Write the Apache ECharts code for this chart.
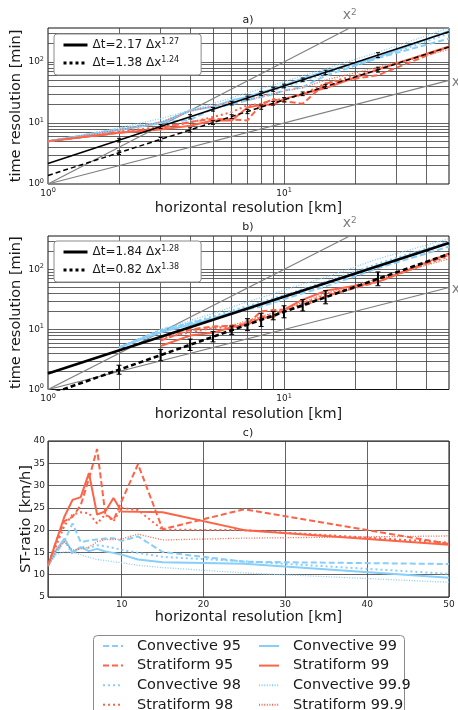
<!DOCTYPE html>
<html>
<head>
<meta charset="utf-8">
<script src="https://cdn.jsdelivr.net/npm/echarts@6/dist/echarts.min.js"></script>
<style>
  html, body { margin: 0; padding: 0; background: #fff; }
  #chart { width: 458px; height: 710px; }
</style>
</head>
<body>
<div id="chart"></div>
<script>
// horizontal resolutions [km]
const resKm = [1, 2, 3, 4, 5, 6, 7, 8, 9, 10, 12, 15, 25, 50];
const resConvB = [2, 3, 4, 5, 6, 7, 8, 9, 10, 12, 15, 25, 50];
const resStratB = [3, 4, 5, 6, 7, 8, 9, 10, 12, 15, 25, 50];
const resErr = [2, 3, 4, 5, 6, 7, 8, 9, 10, 12, 15, 25];

// a) time resolution [min]
const aConv95 = [5.0, 8.0, 10.3, 11.2, 17.3, 20.3, 23.5, 26.5, 29.7, 34.1, 38.7, 59.6, 116, 242];
const aStrat95 = [5.0, 6.9, 8.2, 10.4, 11.7, 11.4, 11.0, 20.3, 24.3, 22.6, 20.7, 44.6, 60.7, 178];
const aConv98 = [5.0, 7.7, 10.1, 16.4, 18.4, 22.5, 25.3, 29.3, 33.8, 38.5, 48.3, 64.3, 115, 294];
const aStrat98 = [5.0, 7.3, 8.6, 10.2, 12.5, 15.1, 19.5, 20.4, 24.5, 24.0, 29.4, 44.8, 75.0, 174];
const aConv99 = [5.0, 7.7, 9.9, 16.0, 18.5, 23.5, 26.6, 31.6, 36.2, 41.4, 53.7, 70.3, 120, 323];
const aStrat99 = [5.0, 6.9, 7.8, 9.0, 11.0, 11.0, 17.9, 19.8, 19.9, 24.8, 29.9, 37.5, 75.0, 180];
const aConv999 = [5.0, 8.3, 11.8, 16.0, 20.7, 25.9, 31.3, 36.4, 41.9, 47.2, 59.5, 77.6, 144, 361];
const aStrat999 = [5.0, 7.7, 10.3, 15.5, 19.0, 22.2, 24.1, 26.8, 30.2, 33.3, 37.7, 50.6, 82.4, 160];

// b) time resolution [min]
const bConv95 = [5.0, 9.5, 12.8, 15.5, 18.5, 21.5, 24.0, 28.0, 32.0, 40.0, 52.0, 105, 240];
const bConv98 = [5.0, 9.8, 13.0, 16.5, 20.5, 24.5, 28.5, 33.0, 37.0, 47.0, 62.0, 125, 290];
const bConv99 = [5.0, 9.0, 12.0, 15.0, 19.0, 23.0, 27.0, 31.0, 35.0, 44.0, 59.0, 116, 280];
const bConv999 = [5.1, 10.0, 14.0, 18.5, 23.5, 29.0, 34.0, 39.0, 45.0, 57.0, 74.0, 150, 325];
const bStrat95 = [6.5, 10.0, 11.2, 11.5, 12.5, 20.0, 21.0, 21.5, 24.0, 36.0, 62.0, 175];
const bStrat98 = [7.0, 9.0, 10.5, 11.0, 13.0, 16.0, 18.0, 21.0, 27.0, 38.0, 64.0, 165];
const bStrat99 = [5.3, 7.9, 8.8, 10.9, 12.1, 15.6, 16.0, 21.3, 31.3, 44.0, 62.0, 185];
const bStrat999 = [7.3, 9.5, 10.8, 11.8, 14.0, 16.5, 19.0, 22.0, 28.0, 40.0, 70.0, 150];

// c) ST-ratio [km/h]
const cConv95 = [12, 15.0, 17.5, 21.5, 17.3, 17.7, 17.9, 18.1, 18.2, 17.6, 18.6, 15.1, 12.9, 12.4];
const cStrat95 = [12, 17.5, 22.0, 23.0, 25.6, 31.5, 38.2, 23.7, 22.2, 26.5, 34.8, 20.2, 24.7, 16.9];
const cConv98 = [12, 15.5, 17.8, 14.6, 16.3, 16.0, 16.6, 16.4, 16.0, 15.6, 14.9, 14.0, 13.0, 10.2];
const cStrat98 = [12, 16.5, 21.0, 23.5, 24.0, 23.8, 21.5, 23.5, 22.0, 25.0, 24.5, 20.1, 20.0, 17.2];
const cConv99 = [12, 15.5, 18.1, 15.0, 16.2, 15.3, 15.8, 15.2, 14.9, 14.5, 13.4, 12.8, 12.45, 9.3];
const cStrat99 = [12, 17.5, 23.0, 26.8, 27.4, 32.8, 23.5, 24.2, 27.2, 24.2, 24.1, 24.0, 20.0, 16.7];
const cConv999 = [12, 14.5, 15.2, 15.0, 14.5, 13.9, 13.4, 13.2, 12.9, 12.7, 12.1, 11.6, 10.4, 8.3];
const cStrat999 = [12, 15.5, 17.4, 15.5, 15.8, 16.2, 17.4, 17.9, 17.9, 18.0, 19.1, 17.8, 18.2, 18.7];

// power-law fits  dt = a * dx^b
const fitA = [{ a: 2.17, b: 1.27 }, { a: 1.38, b: 1.24 }];
const fitB = [{ a: 1.84, b: 1.28 }, { a: 0.82, b: 1.38 }];

// error bar half-spans (log10 units)
const errASolid = [0.03, 0.03, 0.035, 0.03, 0.03, 0.03, 0.035, 0.03, 0.03, 0.03, 0.035, 0.04];
const errADash = [0.03, 0.03, 0.035, 0.03, 0.03, 0.035, 0.035, 0.03, 0.035, 0.03, 0.035, 0.04];
const errBDash = [0.075, 0.095, 0.095, 0.085, 0.07, 0.1, 0.11, 0.07, 0.1, 0.095, 0.11, 0.115];

const xMin = 1, xMax = 50, tMin = 1, tMax = 360;

const FONT = 'DejaVu Sans';
const INK = '#1a1a1a';
const BLUE = '#87cefa';
const RED = '#ff6347';
const GRIDLINE = '#3c3c3c';

const pctStyle = {
  '95':   { type: [6, 3], width: 2 },
  '98':   { type: [2, 3], width: 2 },
  '99':   { type: 'solid', width: 2 },
  '99.9': { type: [1, 1.6], width: 1.3 }
};

function lineSeries(name, xs, ys, g, color, pct) {
  const st = pctStyle[pct];
  return {
    type: 'line', name, xAxisIndex: g, yAxisIndex: g, z: 3,
    data: xs.map((x, i) => [x, ys[i]]),
    symbol: 'none', animation: false, silent: true,
    itemStyle: { color },
    lineStyle: { color, width: st.width, type: st.type }
  };
}

function logGridValues(lo, hi) {
  const v = [];
  for (let d = 1; d < hi; d *= 10) {
    for (let m = 1; m < 10; m++) {
      const t = m * d;
      if (t > lo * 1.0001 && t < hi * 0.9999) v.push(t);
    }
  }
  return v;
}

function powerLabel(v) {
  const e = Math.log10(v);
  const r = Math.round(e);
  return Math.abs(e - r) < 1e-6 ? '10{s|' + r + '}' : '';
}

const tickRich = { s: { fontSize: 6.5, fontFamily: FONT, color: INK, verticalAlign: 'top', lineHeight: 8 } };

function logAxes(g) {
  return {
    x: {
      type: 'log', logBase: 10, gridIndex: g, min: xMin, max: xMax,
      name: 'horizontal resolution [km]', nameLocation: 'middle', nameGap: 14,
      nameTextStyle: { fontSize: 14.5, fontFamily: FONT, color: INK },
      axisLine: { show: false }, axisTick: { show: false }, splitLine: { show: false },
      axisLabel: { formatter: powerLabel, rich: tickRich, fontSize: 9, lineHeight: 13, fontFamily: FONT, color: INK, margin: 3 }
    },
    y: {
      type: 'log', logBase: 10, gridIndex: g, min: tMin, max: tMax,
      name: 'time resolution [min]', nameLocation: 'middle', nameGap: 24, nameMoveOverlap: false,
      nameTextStyle: { fontSize: 14.5, fontFamily: FONT, color: INK },
      axisLine: { show: false }, axisTick: { show: false }, splitLine: { show: false },
      axisLabel: { formatter: powerLabel, rich: tickRich, fontSize: 9, lineHeight: 13, fontFamily: FONT, color: INK, margin: 4 }
    }
  };
}

function refSeries(g) {
  const gx = logGridValues(xMin, xMax);
  const gy = logGridValues(tMin, tMax);
  const gray = { color: '#808080', width: 1.2 };
  const lblStyle = { fontSize: 14, fontFamily: FONT, color: '#808080', rich: { s: { fontSize: 9, fontFamily: FONT, color: '#808080', verticalAlign: 'top', lineHeight: 10 } } };
  const sqTop = Math.sqrt(tMax);
  return [
    {
      type: 'line', xAxisIndex: g, yAxisIndex: g, z: 2, silent: true, animation: false,
      data: [[xMin, xMin], [xMax, xMax]], symbol: 'none', lineStyle: gray,
      markLine: {
        silent: true, symbol: 'none', z: 1, animation: false,
        label: { show: false },
        lineStyle: { color: GRIDLINE, width: 0.8, type: 'solid' },
        emphasis: { disabled: true },
        data: gx.map(v => ({ xAxis: v })).concat(gy.map(v => ({ yAxis: v })))
      },
      markPoint: {
        silent: true, symbol: 'circle', symbolSize: 0, animation: false,
        data: [{ coord: [xMax, xMax], label: { show: true, formatter: 'x', offset: [7, 2], ...lblStyle } }]
      }
    },
    {
      type: 'line', xAxisIndex: g, yAxisIndex: g, z: 2, silent: true, animation: false,
      data: [[xMin, xMin * xMin], [sqTop, tMax]], symbol: 'none', lineStyle: gray,
      markPoint: {
        silent: true, symbol: 'circle', symbolSize: 0, animation: false,
        data: [{ coord: [sqTop, tMax], label: { show: true, formatter: 'x{s|2}', offset: [0, -13], ...lblStyle } }]
      }
    }
  ];
}

function fitName(f) { return 'Δt=' + f.a.toFixed(2) + ' Δx^' + f.b.toFixed(2); }

function fitSeries(g, f, dashed, width) {
  return {
    type: 'line', name: fitName(f), xAxisIndex: g, yAxisIndex: g, z: 4,
    silent: true, animation: false, symbol: 'none',
    data: [[xMin, f.a], [xMax, f.a * Math.pow(xMax, f.b)]],
    itemStyle: { color: '#000' },
    lineStyle: { color: '#000', width, type: dashed ? [5, 3] : 'solid' }
  };
}

function errSeries(g, f, spans, barWidth, capHalf) {
  return {
    type: 'custom', xAxisIndex: g, yAxisIndex: g, z: 5, silent: true, animation: false,
    data: resErr.map((x, i) => {
      const c = f.a * Math.pow(x, f.b);
      const k = Math.pow(10, spans[i]);
      return [x, c / k, c * k];
    }),
    encode: { x: 0, y: [1, 2] },
    renderItem: (params, api) => {
      const lo = api.coord([api.value(0), api.value(1)]);
      const hi = api.coord([api.value(0), api.value(2)]);
      const st = { stroke: '#000', lineWidth: barWidth };
      const cap = { stroke: '#000', lineWidth: 1 };
      return {
        type: 'group', children: [
          { type: 'line', shape: { x1: lo[0], y1: lo[1], x2: hi[0], y2: hi[1] }, style: st },
          { type: 'line', shape: { x1: lo[0] - capHalf, y1: lo[1], x2: lo[0] + capHalf, y2: lo[1] }, style: cap },
          { type: 'line', shape: { x1: hi[0] - capHalf, y1: hi[1], x2: hi[0] + capHalf, y2: hi[1] }, style: cap }
        ]
      };
    }
  };
}

function fitLegend(top, fits) {
  return {
    orient: 'vertical', left: 54, top,
    padding: [4, 22, 5, 8], itemGap: 4, itemWidth: 24, itemHeight: 14,
    backgroundColor: '#fff', borderColor: '#8a8a8a', borderWidth: 1, borderRadius: 3,
    selectedMode: false,
    itemStyle: { opacity: 0 },
    data: [
      { name: fitName(fits[0]), lineStyle: { width: 3, type: 'solid' } },
      { name: fitName(fits[1]), lineStyle: { width: 3, type: [3, 3] } }
    ],
    formatter: n => n.replace(/\^(.*)$/, '{s|$1}'),
    textStyle: {
      fontSize: 12, lineHeight: 14, fontFamily: FONT, color: INK,
      rich: { s: { fontSize: 8, fontFamily: FONT, color: INK, verticalAlign: 'top', lineHeight: 9 } }
    }
  };
}

function pctLegend(left, names) {
  return {
    orient: 'vertical', left, top: 638.5, height: 120,
    padding: 0, itemGap: 4.6, itemWidth: 20, itemHeight: 12,
    selectedMode: false,
    itemStyle: { opacity: 0 },
    data: names,
    textStyle: { fontSize: 14.5, lineHeight: 12, fontFamily: FONT, color: INK, padding: [0, 0, 0, 9] }
  };
}

const axA = logAxes(0), axB = logAxes(1);

const series = [].concat(
  refSeries(0),
  [
    lineSeries('Convective 95', resKm, aConv95, 0, BLUE, '95'),
    lineSeries('Stratiform 95', resKm, aStrat95, 0, RED, '95'),
    lineSeries('Convective 98', resKm, aConv98, 0, BLUE, '98'),
    lineSeries('Stratiform 98', resKm, aStrat98, 0, RED, '98'),
    lineSeries('Convective 99', resKm, aConv99, 0, BLUE, '99'),
    lineSeries('Stratiform 99', resKm, aStrat99, 0, RED, '99'),
    lineSeries('Convective 99.9', resKm, aConv999, 0, BLUE, '99.9'),
    lineSeries('Stratiform 99.9', resKm, aStrat999, 0, RED, '99.9'),
    fitSeries(0, fitA[0], false, 1.5),
    fitSeries(0, fitA[1], true, 1.5),
    errSeries(0, fitA[0], errASolid, 1, 2),
    errSeries(0, fitA[1], errADash, 1, 2)
  ],
  refSeries(1),
  [
    lineSeries('Convective 95', resConvB, bConv95, 1, BLUE, '95'),
    lineSeries('Stratiform 95', resStratB, bStrat95, 1, RED, '95'),
    lineSeries('Convective 98', resConvB, bConv98, 1, BLUE, '98'),
    lineSeries('Stratiform 98', resStratB, bStrat98, 1, RED, '98'),
    lineSeries('Convective 99', resConvB, bConv99, 1, BLUE, '99'),
    lineSeries('Stratiform 99', resStratB, bStrat99, 1, RED, '99'),
    lineSeries('Convective 99.9', resConvB, bConv999, 1, BLUE, '99.9'),
    lineSeries('Stratiform 99.9', resStratB, bStrat999, 1, RED, '99.9'),
    fitSeries(1, fitB[0], false, 2.6),
    fitSeries(1, fitB[1], true, 2.6),
    errSeries(1, fitB[1], errBDash, 2, 2.5)
  ],
  [
    lineSeries('Convective 95', resKm, cConv95, 2, BLUE, '95'),
    lineSeries('Stratiform 95', resKm, cStrat95, 2, RED, '95'),
    lineSeries('Convective 98', resKm, cConv98, 2, BLUE, '98'),
    lineSeries('Stratiform 98', resKm, cStrat98, 2, RED, '98'),
    lineSeries('Convective 99', resKm, cConv99, 2, BLUE, '99'),
    lineSeries('Stratiform 99', resKm, cStrat99, 2, RED, '99'),
    lineSeries('Convective 99.9', resKm, cConv999, 2, BLUE, '99.9'),
    lineSeries('Stratiform 99.9', resKm, cStrat999, 2, RED, '99.9')
  ]
);

const gridBase = { show: true, borderColor: '#111', borderWidth: 1, backgroundColor: 'transparent', outerBoundsMode: 'none', containLabel: false };

const option = {
  backgroundColor: '#fff',
  animation: false,
  textStyle: { fontFamily: FONT },
  grid: [
    Object.assign({ left: 48, top: 28, width: 401, height: 156 }, gridBase),
    Object.assign({ left: 48, top: 236, width: 401, height: 153.5 }, gridBase),
    Object.assign({ left: 48, top: 441, width: 401, height: 156 }, gridBase)
  ],
  xAxis: [
    axA.x, axB.x,
    {
      type: 'value', gridIndex: 2, min: 1, max: 50, splitNumber: 5,
      name: 'horizontal resolution [km]', nameLocation: 'middle', nameGap: 13,
      nameTextStyle: { fontSize: 14.5, fontFamily: FONT, color: INK },
      axisLine: { show: false }, axisTick: { show: false },
      splitLine: { show: true, lineStyle: { color: GRIDLINE, width: 0.8 } },
      axisLabel: { formatter: v => (v === 1 ? '' : String(v)), fontSize: 9, fontFamily: FONT, color: INK, margin: 3 }
    }
  ],
  yAxis: [
    axA.y, axB.y,
    {
      type: 'value', gridIndex: 2, min: 5, max: 40, interval: 5,
      name: 'ST-ratio [km/h]', nameLocation: 'middle', nameGap: 14, nameMoveOverlap: false,
      nameTextStyle: { fontSize: 14.5, fontFamily: FONT, color: INK },
      axisLine: { show: false }, axisTick: { show: false },
      splitLine: { show: true, lineStyle: { color: GRIDLINE, width: 0.8 } },
      axisLabel: { fontSize: 9, fontFamily: FONT, color: INK, margin: 3 }
    }
  ],
  legend: [
    fitLegend(34, fitA),
    fitLegend(241, fitB),
    pctLegend(102, ['Convective 95', 'Stratiform 95', 'Convective 98', 'Stratiform 98']),
    pctLegend(258, ['Convective 99', 'Stratiform 99', 'Convective 99.9', 'Stratiform 99.9'])
  ],
  graphic: [
    { type: 'rect', z: -1, shape: { x: 93.5, y: 635.5, width: 311, height: 90, r: 4 }, style: { fill: '#fff', stroke: '#8a8a8a', lineWidth: 1 } },
    { type: 'text', x: 248, y: 20, style: { text: 'a)', font: '11px "DejaVu Sans"', fill: INK, textAlign: 'center', textVerticalAlign: 'middle' } },
    { type: 'text', x: 248, y: 227, style: { text: 'b)', font: '11px "DejaVu Sans"', fill: INK, textAlign: 'center', textVerticalAlign: 'middle' } },
    { type: 'text', x: 248, y: 433, style: { text: 'c)', font: '11px "DejaVu Sans"', fill: INK, textAlign: 'center', textVerticalAlign: 'middle' } }
  ],
  series
};

const chart = echarts.init(document.getElementById('chart'), null, { renderer: 'canvas' });
chart.setOption(option);
</script>
</body>
</html>
